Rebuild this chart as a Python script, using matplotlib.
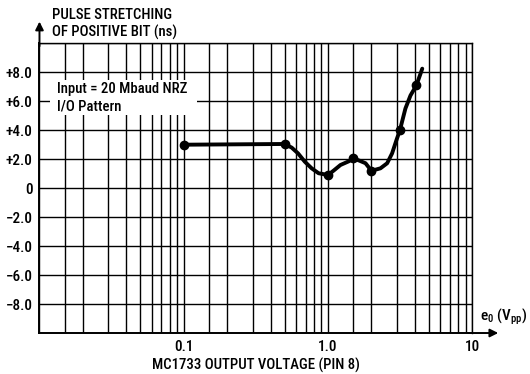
import matplotlib
matplotlib.use("Agg")
import matplotlib.pyplot as plt
from matplotlib.patches import Rectangle

plt.rcParams['font.family'] = ['Roboto Condensed', 'DejaVu Sans']
plt.rcParams['font.weight'] = 'medium'
plt.rcParams['mathtext.default'] = 'regular'

# Curve (x in Vpp, y in ns)
curve_x = [0.1, 0.5, 0.56, 0.62, 0.69, 0.77, 0.86, 1.0, 1.09, 1.22, 1.39,
           1.5, 1.65, 1.82, 2.0, 2.31, 2.57, 2.78, 3.0, 3.15, 3.44, 3.73,
           4.1, 4.5]
curve_y = [3.0, 3.05, 2.8, 2.4, 1.83, 1.37, 1.03, 0.91, 1.2, 1.6, 1.85,
           2.05, 1.9, 1.72, 1.2, 1.37, 1.72, 2.4, 3.4, 4.0, 5.5, 6.4,
           7.1, 8.25]
marker_x = [0.1, 0.5, 1.0, 1.5, 2.0, 3.15, 4.1]
marker_y = [3.0, 3.05, 0.91, 2.05, 1.2, 4.0, 7.1]

grid_x = [0.01, 0.015, 0.02, 0.03, 0.04, 0.05, 0.06, 0.07, 0.08, 0.09,
          0.1, 0.15, 0.2, 0.3, 0.4, 0.5, 0.6, 0.7, 0.8, 0.9,
          1.0, 1.5, 2, 3, 4, 5, 6, 7, 8, 9, 10]
xtick_vals = [0.1, 1.0, 10]
xtick_labels = ["0.1", "1.0", "10"]
ytick_vals = [8, 6, 4, 2, 0, -2, -4, -6, -8]
ytick_labels = ["+8.0", "+6.0", "+4.0", "+2.0", "0", "\u22122.0", "\u22124.0",
                "\u22126.0", "\u22128.0"]
grid_y = list(range(-10, 11, 2))

FS = 10.6

fig = plt.figure(figsize=(5.3, 3.74), dpi=100)
ax = fig.add_axes([0.0745, 0.1096, 0.8166, 0.7746])
ax.set_xscale('log')
ax.set_xlim(0.01, 10)
ax.set_ylim(-10, 10)

for gx in grid_x:
    ax.axvline(gx, color='black', lw=1.0, zorder=1)
for gy in grid_y:
    ax.axhline(gy, color='black', lw=1.0, zorder=1)

ax.set_xticks(xtick_vals)
ax.set_xticklabels(xtick_labels)
ax.set_xticks([], minor=True)
ax.set_yticks(ytick_vals)
ax.set_yticklabels(ytick_labels)
ax.tick_params(axis='both', length=0, labelsize=FS + 0.4)
ax.tick_params(axis='y', pad=5)
ax.tick_params(axis='x', pad=5)
for s in ax.spines.values():
    s.set_linewidth(1.0)
ax.spines['left'].set_linewidth(1.4)
ax.spines['bottom'].set_linewidth(1.4)

ax.add_patch(Rectangle((0.0243, 0.7525), 0.34, 0.1205, transform=ax.transAxes,
                       facecolor='white', edgecolor='none', zorder=2))
ax.text(0.04, 0.842, "Input = 20 Mbaud NRZ", transform=ax.transAxes,
        fontsize=FS, va='center', ha='left', zorder=3)
ax.text(0.04, 0.782, "I/O Pattern", transform=ax.transAxes,
        fontsize=FS, va='center', ha='left', zorder=3)

ax.plot(curve_x, curve_y, color='black', lw=2.8, solid_capstyle='round',
        solid_joinstyle='round', zorder=4)
ax.plot(marker_x, marker_y, 'o', color='black', ms=6, zorder=5)

# axis arrows
ax.annotate('', xy=(0, 1.075), xytext=(0, 0.99), xycoords='axes fraction',
            arrowprops=dict(arrowstyle='-|>', color='black', lw=1.4,
                            mutation_scale=12, shrinkA=0, shrinkB=0),
            annotation_clip=False)
ax.annotate('', xy=(1.06, 0), xytext=(0.99, 0), xycoords='axes fraction',
            arrowprops=dict(arrowstyle='-|>', color='black', lw=1.4,
                            mutation_scale=12, shrinkA=0, shrinkB=0),
            annotation_clip=False)

fig.text(51.7 / 530, 1 - 15 / 374, "PULSE STRETCHING", fontsize=FS,
         ha='left', va='center')
fig.text(51.7 / 530, 1 - 32 / 374, "OF POSITIVE BIT (ns)", fontsize=FS,
         ha='left', va='center')
fig.text(256 / 530, 1 - 365 / 374, "MC1733 OUTPUT VOLTAGE (PIN 8)", fontsize=FS,
         ha='center', va='center')
fig.text(480 / 530, 1 - 317 / 374, r"e$_0$ (V$_{pp}$)", fontsize=FS + 0.4,
         ha='left', va='center')

fig.savefig("out.png", dpi=100)
